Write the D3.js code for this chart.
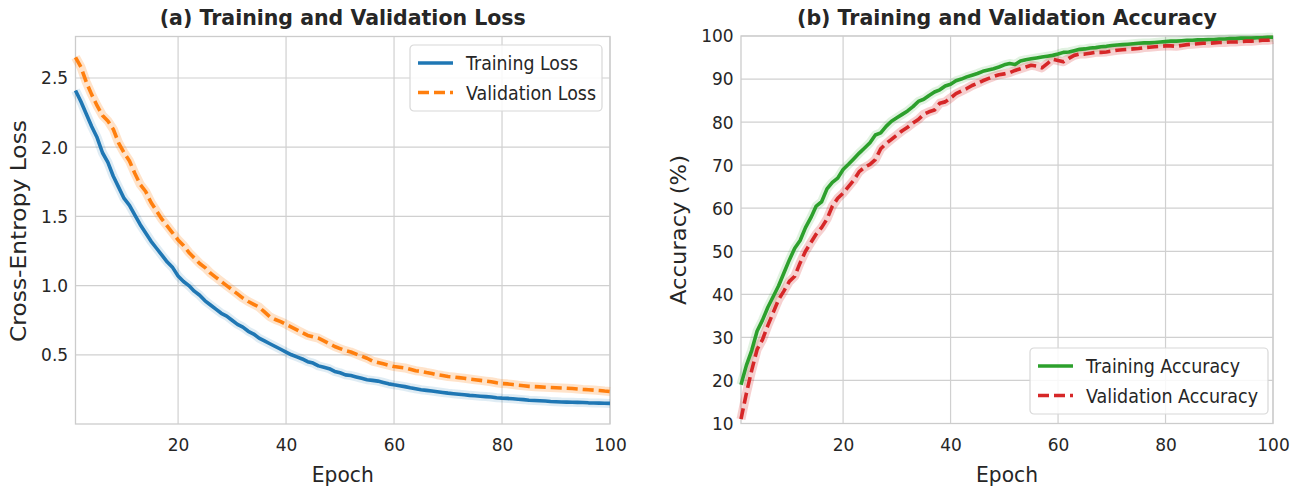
<!DOCTYPE html>
<html>
<head>
<meta charset="utf-8">
<script src="https://cdn.jsdelivr.net/npm/d3@7"></script>
<style>
  body { margin: 0; background: #fff; }
  svg text { font-family: "DejaVu Sans", sans-serif; fill: #262626; }
</style>
</head>
<body>
<div id="chart"></div>
<script>
// epochs 1..100
var epochs = d3.range(1, 101);

var trainLoss = [
  2.41, 2.33, 2.24, 2.15, 2.07, 1.96, 1.89, 1.79, 1.71, 1.63,
  1.58, 1.51, 1.44, 1.38, 1.32, 1.27, 1.22, 1.17, 1.13, 1.07,
  1.03, 1.00, 0.96, 0.93, 0.89, 0.86, 0.83, 0.80, 0.78, 0.75,
  0.72, 0.70, 0.67, 0.65, 0.62, 0.60, 0.58, 0.56, 0.54, 0.52,
  0.50, 0.485, 0.47, 0.45, 0.44, 0.42, 0.41, 0.40, 0.38, 0.37,
  0.355, 0.35, 0.34, 0.33, 0.32, 0.315, 0.31, 0.30, 0.29, 0.283,
  0.277, 0.27, 0.262, 0.255, 0.248, 0.243, 0.238, 0.233, 0.228, 0.223,
  0.219, 0.215, 0.211, 0.207, 0.204, 0.201, 0.198, 0.195, 0.19, 0.187,
  0.185, 0.182, 0.179, 0.176, 0.172, 0.17, 0.168, 0.166, 0.163, 0.161,
  0.159, 0.158, 0.157, 0.156, 0.155, 0.153, 0.152, 0.151, 0.15, 0.149
];
var valLoss = [
  2.65, 2.58, 2.47, 2.38, 2.30, 2.23, 2.19, 2.13, 2.03, 1.96,
  1.90, 1.81, 1.73, 1.68, 1.60, 1.54, 1.48, 1.43, 1.38, 1.33,
  1.29, 1.24, 1.20, 1.16, 1.13, 1.09, 1.06, 1.03, 1.00, 0.97,
  0.94, 0.91, 0.885, 0.865, 0.845, 0.81, 0.775, 0.755, 0.74, 0.72,
  0.70, 0.68, 0.66, 0.64, 0.63, 0.62, 0.60, 0.58, 0.56, 0.545,
  0.53, 0.52, 0.505, 0.49, 0.475, 0.455, 0.445, 0.435, 0.425, 0.415,
  0.41, 0.405, 0.395, 0.385, 0.38, 0.372, 0.365, 0.356, 0.35, 0.343,
  0.34, 0.335, 0.33, 0.325, 0.32, 0.315, 0.31, 0.305, 0.298, 0.292,
  0.29, 0.285, 0.28, 0.276, 0.272, 0.27, 0.268, 0.266, 0.264, 0.262,
  0.26, 0.258, 0.256, 0.253, 0.25, 0.248, 0.245, 0.242, 0.238, 0.235
];
var trainAcc = [
  19.0, 23.5, 27.0, 31.5, 34.0, 37.0, 39.5, 42.0, 45.0, 48.0,
  50.7, 52.5, 55.5, 57.8, 60.5, 61.5, 64.5, 66.0, 67.0, 69.0,
  70.2, 71.5, 72.8, 74.0, 75.2, 77.0, 77.5, 79.0, 80.2, 81.0,
  81.8, 82.6, 83.6, 84.8, 85.3, 86.2, 87.0, 87.5, 88.4, 88.8,
  89.6, 90.0, 90.5, 90.9, 91.3, 91.8, 92.1, 92.4, 92.8, 93.3,
  93.6, 93.4, 94.2, 94.5, 94.7, 94.9, 95.1, 95.3, 95.5, 95.8,
  96.2, 96.3, 96.6, 96.9, 97.0, 97.2, 97.3, 97.5, 97.6, 97.8,
  97.9, 98.0, 98.1, 98.2, 98.3, 98.4, 98.4, 98.5, 98.6, 98.7,
  98.8, 98.8, 98.9, 99.0, 99.0, 99.1, 99.1, 99.2, 99.2, 99.3,
  99.3, 99.4, 99.4, 99.5, 99.5, 99.5, 99.6, 99.6, 99.7, 99.7
];
var valAcc = [
  11.0, 17.0, 22.4, 27.2, 29.5, 32.8, 35.8, 38.8, 40.8, 43.0,
  44.2, 47.3, 50.0, 52.0, 54.0, 55.5, 57.5, 60.5, 62.3, 63.5,
  65.0, 66.5, 68.5, 69.5, 70.2, 71.3, 73.8, 75.0, 76.0, 77.0,
  78.0, 78.8, 79.8, 80.6, 81.8, 82.4, 82.8, 84.4, 84.7, 85.6,
  86.6, 87.2, 87.8, 88.5, 89.0, 89.6, 90.1, 90.6, 91.0, 91.2,
  91.5, 92.0, 92.4, 92.8, 93.2, 93.0, 92.6, 93.6, 94.6, 94.3,
  94.0, 94.8, 95.5, 95.8, 95.8, 96.0, 96.2, 96.2, 96.3, 96.5,
  96.7, 96.8, 96.9, 97.0, 97.1, 97.3, 97.4, 97.5, 97.6, 97.7,
  97.7, 97.6, 97.8, 98.0, 98.1, 98.2, 98.3, 98.3, 98.4, 98.5,
  98.5, 98.6, 98.6, 98.7, 98.8, 98.8, 98.9, 99.0, 99.0, 99.2
];

var xTicks = [20, 40, 60, 80, 100];
var lossTicks = [0.5, 1.0, 1.5, 2.0, 2.5];
var accTicks = [10, 20, 30, 40, 50, 60, 70, 80, 90, 100];

var W = 1306, H = 491;
var svg = d3.select("#chart").append("svg")
    .attr("width", W).attr("height", H);

function panel(opt) {
    var x = d3.scaleLinear().domain([1, 100]).range([opt.left, opt.right]),
        y = d3.scaleLinear().domain(opt.yDomain).range([opt.bottom, opt.top]);

    var g = svg.append("g");

    // grid
    g.append("g").selectAll("line").data(xTicks).join("line")
        .attr("x1", d => x(d)).attr("x2", d => x(d))
        .attr("y1", opt.top).attr("y2", opt.bottom)
        .attr("stroke", "#d0d0d0").attr("stroke-width", 1.2);
    g.append("g").selectAll("line").data(opt.yTicks).join("line")
        .attr("x1", opt.left).attr("x2", opt.right)
        .attr("y1", d => y(d)).attr("y2", d => y(d))
        .attr("stroke", "#d0d0d0").attr("stroke-width", 1.2);

    // frame
    g.append("rect")
        .attr("x", opt.left).attr("y", opt.top)
        .attr("width", opt.right - opt.left).attr("height", opt.bottom - opt.top)
        .attr("fill", "none").attr("stroke", "#cccccc").attr("stroke-width", 1.3);

    // axes
    var xAxis = d3.axisBottom(x).tickValues(xTicks).tickSize(0).tickPadding(14)
        .tickFormat(d3.format("d"));
    var gx = g.append("g").attr("transform", "translate(0," + opt.bottom + ")").call(xAxis);
    var yAxis = d3.axisLeft(y).tickValues(opt.yTicks).tickSize(0).tickPadding(8)
        .tickFormat(opt.yFormat);
    var gy = g.append("g").attr("transform", "translate(" + opt.left + ",0)").call(yAxis);
    [gx, gy].forEach(function (a) {
        a.select(".domain").remove();
        a.selectAll("text").style("font-size", "18.5px").attr("fill", "#262626")
            .attr("transform", "scale(0.92,1)");
    });

    // lines
    var line = function (vals) {
        return d3.line().x((d, i) => x(epochs[i])).y(d => y(d))(vals);
    };
    opt.series.forEach(function (s) {
        g.append("path").attr("d", line(s.values))
            .attr("fill", "none").attr("stroke", s.color)
            .attr("stroke-opacity", s.dash ? 0.22 : 0.14).attr("stroke-width", 9)
            .attr("stroke-linejoin", "round");
    });
    opt.series.forEach(function (s) {
        g.append("path").attr("d", line(s.values))
            .attr("fill", "none").attr("stroke", s.color)
            .attr("stroke-width", 3.6)
            .attr("stroke-dasharray", s.dash ? "11,5" : null)
            .attr("stroke-linejoin", "round");
    });

    // titles and labels
    var cx = (opt.left + opt.right) / 2;
    svg.append("text").attr("x", cx).attr("y", 25)
        .attr("text-anchor", "middle").style("font-size", "21px").style("font-weight", "bold")
        .attr("textLength", opt.titleLen).attr("lengthAdjust", "spacingAndGlyphs")
        .text(opt.title);
    svg.append("text").attr("x", cx).attr("y", 482)
        .attr("text-anchor", "middle").style("font-size", "22px")
        .attr("textLength", 62).attr("lengthAdjust", "spacingAndGlyphs")
        .text("Epoch");
    svg.append("text")
        .attr("transform", "translate(" + opt.ylabX + "," + opt.ylabY + ") rotate(-90)")
        .attr("text-anchor", "middle").style("font-size", "22px")
        .attr("textLength", opt.ylabLen).attr("lengthAdjust", "spacingAndGlyphs")
        .text(opt.ylabel);

    // legend
    var lg = g.append("g").attr("transform", "translate(" + opt.legX + "," + opt.legY + ")");
    lg.append("rect").attr("width", opt.legW).attr("height", 66).attr("rx", 4)
        .attr("fill", "#fff").attr("fill-opacity", 0.85)
        .attr("stroke", "#d8d8d8").attr("stroke-width", 1.2);
    opt.series.forEach(function (s, i) {
        var yy = 18 + i * 29.5;
        lg.append("line").attr("x1", 8).attr("x2", 43).attr("y1", yy).attr("y2", yy)
            .attr("stroke", s.color).attr("stroke-width", 3.6)
            .attr("stroke-dasharray", s.dash ? "11,5" : null);
        lg.append("text").attr("x", 56).attr("y", yy + 7)
            .style("font-size", "19px")
            .attr("textLength", s.labLen).attr("lengthAdjust", "spacingAndGlyphs")
            .text(s.name);
    });
}

panel({
    left: 75.5, right: 610, top: 36.5, bottom: 424,
    yDomain: [0, 2.8], yTicks: lossTicks, yFormat: d3.format(".1f"),
    title: "(a) Training and Validation Loss", titleLen: 366,
    ylabel: "Cross-Entropy Loss", ylabX: 26, ylabY: 231, ylabLen: 222,
    legX: 410, legY: 45, legW: 192,
    series: [
        { name: "Training Loss", values: trainLoss, color: "#1f77b4", dash: false, labLen: 112 },
        { name: "Validation Loss", values: valLoss, color: "#ff7f0e", dash: true, labLen: 130 }
    ]
});

panel({
    left: 741, right: 1273, top: 36, bottom: 423.5,
    yDomain: [10, 100], yTicks: accTicks, yFormat: d3.format("d"),
    title: "(b) Training and Validation Accuracy", titleLen: 420,
    ylabel: "Accuracy (%)", ylabX: 686, ylabY: 230, ylabLen: 150,
    legX: 1030, legY: 348, legW: 238,
    series: [
        { name: "Training Accuracy", values: trainAcc, color: "#2ca02c", dash: false, labLen: 154 },
        { name: "Validation Accuracy", values: valAcc, color: "#d62728", dash: true, labLen: 172 }
    ]
});
</script>
</body>
</html>
